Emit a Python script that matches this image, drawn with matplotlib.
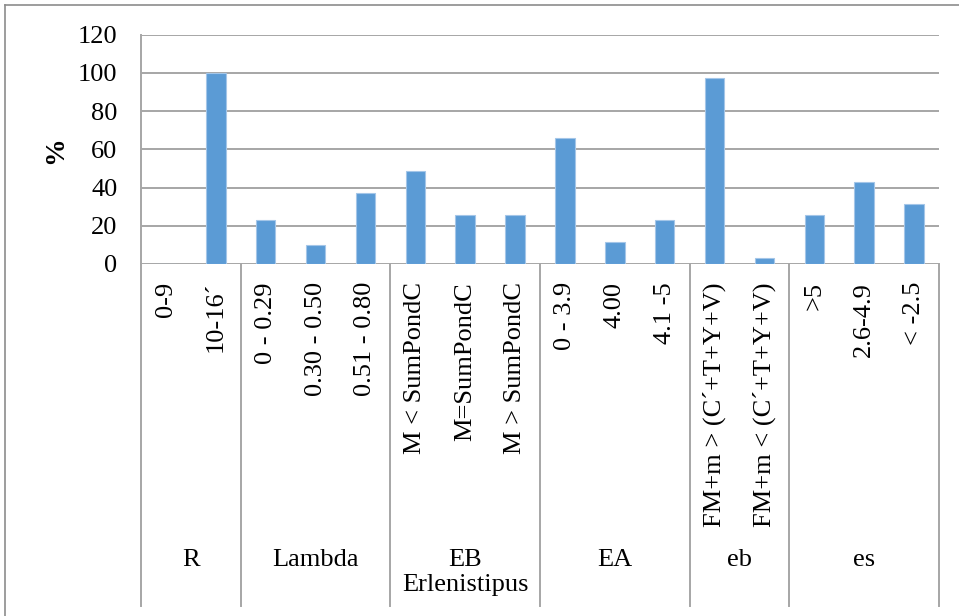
import matplotlib
matplotlib.use("Agg")
import matplotlib.pyplot as plt
from matplotlib.lines import Line2D
from matplotlib.transforms import blended_transform_factory

# Rorschach indices: share of cases (%) per category
groups = ["R", "Lambda", "EB\nErlenistipus", "EA", "eb", "es"]
group_sizes = [2, 3, 3, 3, 2, 3]
categories = [
    "0-9", "10-16\u00b4",
    "0 - 0.29", "0.30 - 0.50", "0.51 - 0.80",
    "M < SumPondC", "M=SumPondC", "M > SumPondC",
    "0 - 3.9", "4.00", "4.1 -5",
    "FM+m > (C\u00b4+T+Y+V)", "FM+m < (C\u00b4+T+Y+V)",
    ">5", "2.6-4.9", "< -2.5",
]
values = [0, 100, 22.9, 10, 37.1, 48.6, 25.7, 25.7, 65.7, 11.4, 22.9,
          97.1, 2.9, 25.7, 42.9, 31.4]
y_ticks = [0, 20, 40, 60, 80, 100, 120]

W, H, DPI = 959, 616, 100
plt.rcParams["font.family"] = ["Liberation Serif", "DejaVu Serif"]
FS = 19
GRID = "#a6a6a6"

fig = plt.figure(figsize=(W / DPI, H / DPI), dpi=DPI)
fig.patch.set_facecolor("white")

left_px, right_px, top_px, base_px, bottom_px = 141, 939, 34.7, 264, 606
ax = fig.add_axes([left_px / W, 1 - base_px / H,
                   (right_px - left_px) / W, (base_px - top_px) / H])

x = list(range(len(categories)))
ax.bar(x, values, width=0.39, color="#5b9bd5", edgecolor="#a4c6e8",
       linewidth=0.8, zorder=3)

ax.set_xlim(-0.5, len(categories) - 0.5)
ax.set_ylim(0, 120)
ax.set_yticks(y_ticks)
ax.set_yticklabels([str(v) for v in y_ticks], fontsize=FS)
ax.yaxis.grid(True, color=GRID, linewidth=1.4, zorder=0)
ax.tick_params(axis="y", length=0, pad=17)
ax.set_xticks(x)
ax.set_xticklabels(categories, rotation=90, fontsize=FS, va="top", ha="center")
ax.tick_params(axis="x", length=0, pad=13)

for side in ["top", "right", "bottom"]:
    ax.spines[side].set_visible(False)
ax.spines["left"].set_color(GRID)
ax.spines["left"].set_linewidth(1.4)

# group separators and group names below the category labels
tr = blended_transform_factory(ax.transData, fig.transFigure)
y0 = 1 - base_px / H
y1 = 1 - bottom_px / H
edges = [-0.5]
for n in group_sizes:
    edges.append(edges[-1] + n)
for e in edges:
    fig.add_artist(Line2D([e, e], [y0, y1], transform=tr, color=GRID,
                          linewidth=1.4))
for g, a, b in zip(groups, edges[:-1], edges[1:]):
    fig.text((a + b) / 2, 1 - 549 / H, g, transform=tr, ha="center",
             va="top", fontsize=FS, linespacing=1.2, multialignment="center")

fig.text(56 / W, 1 - 150 / H, "%", rotation=90, fontsize=20,
         fontweight="bold", ha="center", va="center")

# outer chart frame (top and left edges)
fig.add_artist(Line2D([5 / W, 1], [1 - 5 / H, 1 - 5 / H],
                      transform=fig.transFigure, color="#8c8c8c", linewidth=1.2))
fig.add_artist(Line2D([5 / W, 5 / W], [1 - 5 / H, 0],
                      transform=fig.transFigure, color="#8c8c8c", linewidth=1.2))

fig.savefig("out.png", dpi=DPI, facecolor="white")
